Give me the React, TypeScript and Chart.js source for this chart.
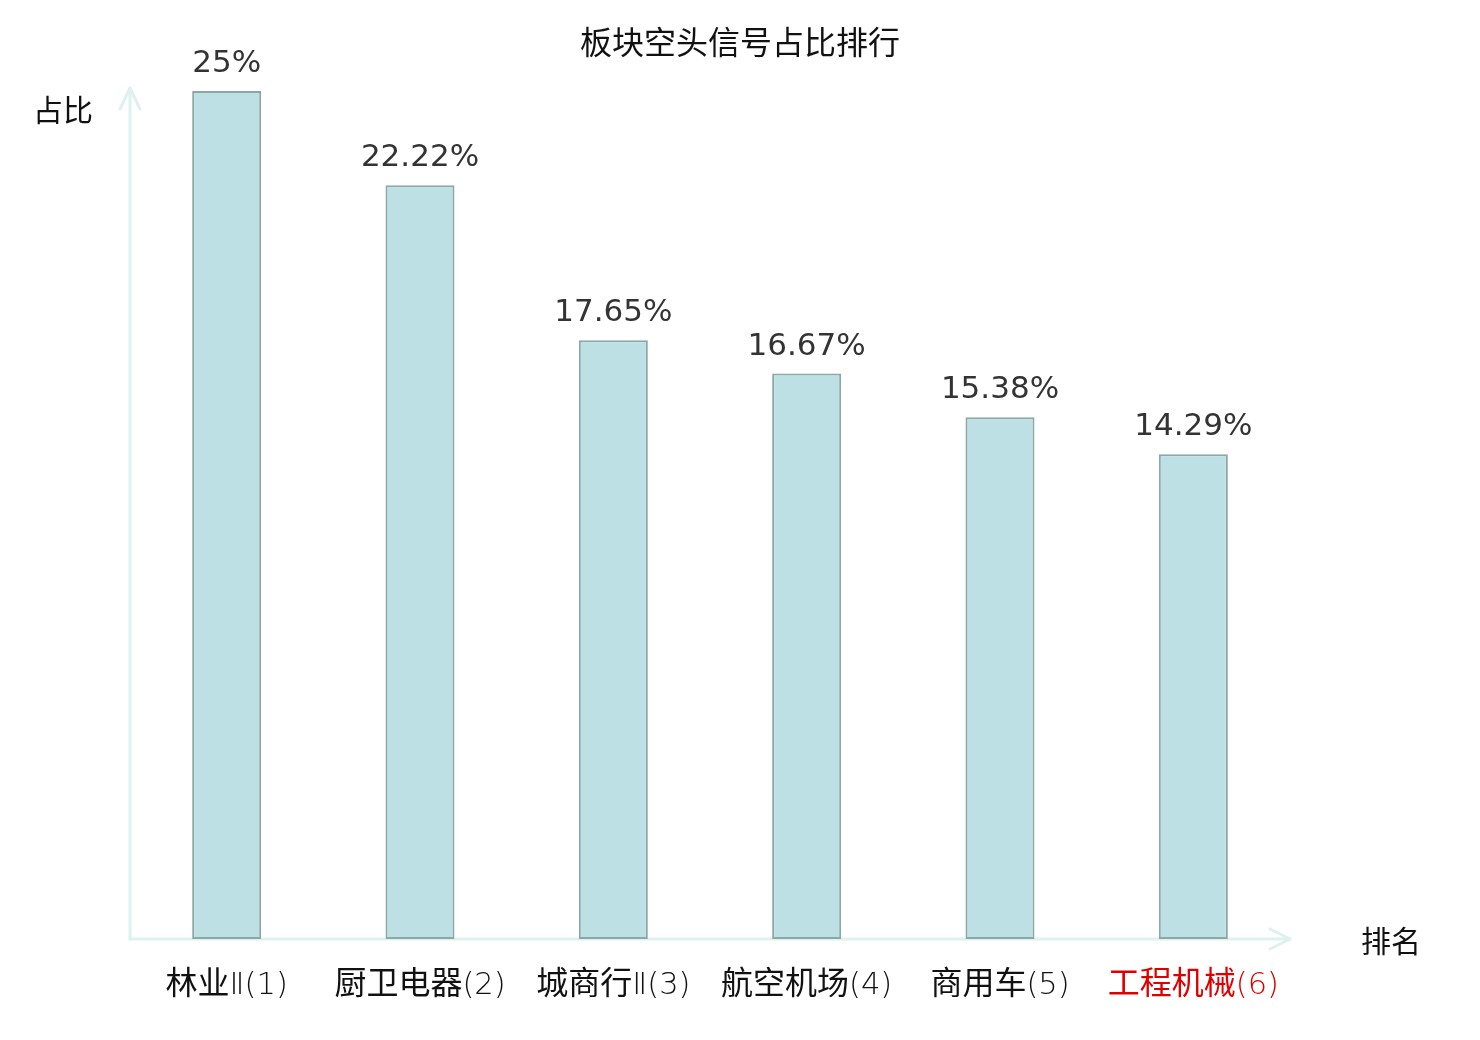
import React, { useEffect, useRef } from "react";
import { Chart, registerables } from "chart.js";

Chart.register(...registerables);

const categories = ["林业Ⅱ(1)", "厨卫电器(2)", "城商行Ⅱ(3)", "航空机场(4)", "商用车(5)", "工程机械(6)"];
const values = [25, 22.22, 17.65, 16.67, 15.38, 14.29];
const valueLabels = ["25%", "22.22%", "17.65%", "16.67%", "15.38%", "14.29%"];
const labelColors = ["#111111", "#111111", "#111111", "#111111", "#111111", "#e00000"];
const titleText = "板块空头信号占比排行";
const yAxisName = "占比";
const xAxisName = "排名";

const CJK = '"Noto Sans CJK SC", "Noto Sans", sans-serif';
const LATIN = '"DejaVu Sans", sans-serif';
const AXIS_COLOR = "#ddf1ee";

function splitRuns(s: string) {
  const runs: { t: string; cjk: boolean }[] = [];
  for (const ch of s) {
    const cjk = /[\u4e00-\u9fff]/.test(ch);
    const last = runs[runs.length - 1];
    if (last && last.cjk === cjk) last.t += ch;
    else runs.push({ t: ch, cjk });
  }
  return runs;
}

const decorPlugin = {
  id: "decor",
  beforeDatasetsDraw(chart: any) {
    const { ctx, chartArea } = chart;
    const { left, right, top, bottom } = chartArea;
    ctx.save();
    ctx.strokeStyle = AXIS_COLOR;
    ctx.lineWidth = 3;
    ctx.lineCap = "round";
    ctx.lineJoin = "round";
    ctx.beginPath();
    ctx.moveTo(left, bottom);
    ctx.lineTo(left, top - 3);
    ctx.stroke();
    ctx.beginPath();
    ctx.moveTo(left - 10, top + 18);
    ctx.lineTo(left, top - 3);
    ctx.lineTo(left + 10, top + 18);
    ctx.stroke();
    ctx.beginPath();
    ctx.moveTo(left, bottom);
    ctx.lineTo(right, bottom);
    ctx.stroke();
    ctx.beginPath();
    ctx.moveTo(right - 20, bottom - 10);
    ctx.lineTo(right, bottom);
    ctx.lineTo(right - 20, bottom + 10);
    ctx.stroke();
    ctx.restore();
  },
  afterDraw(chart: any) {
    const { ctx, scales } = chart;
    const xScale = scales.x;
    const yScale = scales.y;
    ctx.save();
    ctx.fillStyle = "#111111";
    ctx.font = `32px ${CJK}`;
    ctx.textAlign = "center";
    ctx.textBaseline = "middle";
    ctx.fillText(titleText, chart.width / 2, 42);
    ctx.font = `30px ${CJK}`;
    ctx.fillText(yAxisName, 63, 110);
    ctx.fillText(xAxisName, 1391, 941);
    // x labels: CJK runs in Noto Sans CJK, the rest in light DejaVu Sans
    const cjkFont = `32px ${CJK}`;
    const latFont = `200 30.5px ${LATIN}`;
    ctx.textAlign = "left";
    ctx.textBaseline = "alphabetic";
    categories.forEach((c, i) => {
      ctx.fillStyle = labelColors[i];
      const runs = splitRuns(c);
      let total = 0;
      const widths = runs.map((r) => {
        ctx.font = r.cjk ? cjkFont : latFont;
        const w = ctx.measureText(r.t).width;
        total += w;
        return w;
      });
      let x = xScale.getPixelForValue(i) - total / 2;
      runs.forEach((r, k) => {
        ctx.font = r.cjk ? cjkFont : latFont;
        ctx.fillText(r.t, x, 994);
        x += widths[k];
      });
    });
    ctx.fillStyle = "#333333";
    ctx.font = `31px ${LATIN}`;
    ctx.textAlign = "center";
    values.forEach((v, i) => {
      ctx.fillText(valueLabels[i], xScale.getPixelForValue(i), yScale.getPixelForValue(v) - 19);
    });
    ctx.restore();
  },
};

export default function App() {
  const canvasRef = useRef<HTMLCanvasElement | null>(null);
  useEffect(() => {
    const canvas = canvasRef.current;
    if (!canvas) return;
    const chart = new Chart(canvas, {
      type: "bar",
      data: {
        labels: categories,
        datasets: [
          {
            data: values,
            backgroundColor: "#bce0e3",
            borderColor: "#8ca7a8",
            borderWidth: 2,
            borderSkipped: false,
            categoryPercentage: 1,
            barPercentage: 0.357,
          },
        ],
      },
      options: {
        responsive: false,
        animation: false,
        devicePixelRatio: 1,
        layout: { padding: { left: 130, right: 190, top: 91, bottom: 101 } },
        plugins: { legend: { display: false }, tooltip: { enabled: false }, title: { display: false } },
        scales: {
          x: { display: false, offset: true },
          y: { display: false, min: 0, max: 25 },
        },
      },
      plugins: [decorPlugin],
    });
    return () => chart.destroy();
  }, []);
  return (
    <div style={{ position: "fixed", left: 0, top: 0, width: 1480, height: 1040, background: "#fff" }}>
      <canvas ref={canvasRef} width={1480} height={1040} />
    </div>
  );
}
